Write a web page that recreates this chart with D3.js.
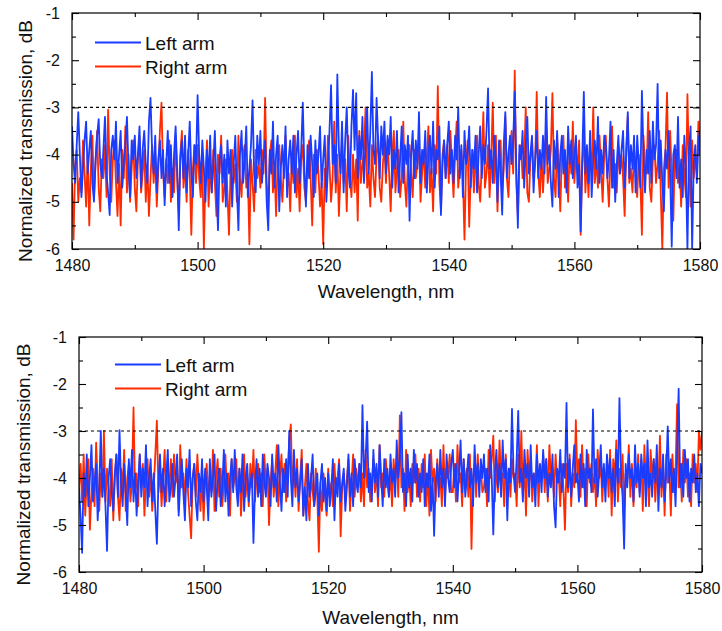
<!DOCTYPE html>
<html><head><meta charset="utf-8">
<script src="https://cdn.jsdelivr.net/npm/d3@7/dist/d3.min.js"></script>
<style>body{margin:0;background:#fff}svg{display:block}</style>
</head><body>
<svg id="chart" width="722" height="631"></svg>
<script>
const seriesNames = ["Left arm", "Right arm"];
const seriesColors = ["#1a3cff", "#ff2a00"];
const xTickValues = [1480, 1500, 1520, 1540, 1560, 1580];
const xMinorTicks = [1490, 1510, 1530, 1550, 1570];
const yTickValues = [-1, -2, -3, -4, -5, -6];
const yMinorTicks = [-1.5, -2.5, -3.5, -4.5, -5.5];
const thresholdLevel = -3;
const wavelengthStart = 1480, wavelengthStep = 0.25;

const topLeftArm = [
-3.4,-4.2,-4.6,-3.8,-3.1,-4.0,-4.9,-4.3,-3.7,-3.3,-4.4,-3.9,-3.5,-4.6,-5.0,-4.1,-3.6,-3.25,-4.2,-4.5,
-3.9,-3.2,-4.4,-4.8,-5.28,-3.9,-3.6,-4.1,-3.3,-4.6,-4.0,-3.5,-4.7,-4.2,-3.8,-3.2,-4.3,-4.9,-3.7,-4.1,
-3.6,-4.5,-4.0,-3.4,-4.7,-3.9,-3.5,-4.2,-4.6,-3.3,-2.8,-3.9,-4.4,-3.6,-4.8,-4.1,-3.7,-4.5,-3.9,-5.07,
-4.2,-3.5,-4.6,-3.8,-4.9,-4.0,-3.4,-4.3,-5.6,-4.1,-3.7,-4.5,-3.6,-4.8,-4.0,-3.3,-4.4,-4.9,-3.8,-4.2,
-2.74,-4.0,-4.6,-3.7,-4.3,-5.0,-3.9,-4.5,-3.6,-4.8,-4.2,-3.5,-4.7,-5.6,-4.1,-3.8,-4.6,-4.0,-5.1,-3.7,
-4.4,-3.9,-5.1,-4.2,-3.6,-4.7,-5.6,-4.0,-3.5,-4.6,-4.1,-3.4,-4.9,-4.3,-3.8,-2.85,-4.4,-4.8,-3.6,-4.2,
-3.5,-4.6,-4.1,-3.7,-5.0,-5.6,-3.9,-4.4,-3.3,-4.7,-4.0,-3.6,-5.2,-4.3,-3.8,-4.5,-3.4,-4.9,-4.1,-3.7,
-4.4,-3.6,-4.8,-4.0,-3.5,-4.6,-3.9,-2.9,-4.3,-5.1,-3.8,-4.5,-3.6,-4.2,-4.9,-3.7,-4.4,-4.0,-3.4,-4.7,
-4.1,-3.6,-5.0,-4.3,-3.5,-2.53,-4.2,-3.8,-4.6,-2.3,-3.9,-4.4,-3.3,-4.8,-3.7,-3.0,-4.3,-4.7,-3.4,-2.63,
-3.9,-2.7,-4.5,-3.6,-4.1,-3.2,-4.6,-3.8,-3.0,-4.4,-3.5,-2.25,-3.9,-4.2,-2.8,-3.7,-4.5,-3.4,-4.0,-3.3,
-4.4,-3.6,-4.0,-3.2,-4.7,-3.9,-4.3,-3.5,-4.8,-4.1,-3.4,-4.6,-3.8,-4.2,-3.6,-5.4,-4.0,-3.5,-4.5,-3.7,
-4.3,-3.1,-4.6,-3.9,-4.2,-3.5,-4.8,-4.0,-3.6,-4.4,-3.3,-4.7,-3.9,-4.1,-3.4,-5.28,-4.2,-3.7,-4.5,-3.8,
-3.3,-4.4,-3.9,-4.6,-3.6,-4.1,-3.0,-4.5,-3.8,-4.9,-3.5,-4.2,-4.0,-3.4,-4.7,-3.9,-4.3,-3.6,-4.8,-4.0,
-3.4,-4.5,-3.8,-4.2,-3.5,-2.6,-4.3,-3.9,-4.6,-3.6,-4.1,-5.0,-3.7,-4.4,-5.27,-3.8,-3.1,-4.5,-4.0,-3.6,
-4.2,-3.7,-2.67,-4.3,-5.55,-3.8,-4.1,-3.5,-4.7,-3.9,-3.2,-4.4,-4.0,-3.6,-4.8,-4.1,-3.5,-4.5,-3.9,-4.3,
-3.6,-4.4,-2.78,-4.2,-3.8,-4.6,-5.1,-3.7,-4.3,-3.5,-4.9,-4.0,-3.6,-4.4,-3.9,-4.8,-3.4,-4.2,-3.7,-4.5,
-4.0,-3.6,-4.7,-4.2,-5.63,-4.1,-2.67,-4.4,-3.8,-4.6,-3.5,-4.9,-4.1,-3.7,-4.3,-3.2,-4.6,-3.9,-4.4,-3.6,
-3.8,-4.5,-4.1,-3.3,-4.7,-3.9,-5.0,-4.2,-3.6,-4.4,-3.9,-3.5,-4.7,-4.0,-3.1,-4.5,-3.8,-4.3,-3.6,-4.8,
-3.6,-4.2,-4.7,-2.65,-4.0,-4.8,-3.9,-4.4,-3.5,-4.6,-3.3,-4.1,-3.8,-2.5,-4.5,-3.7,-4.6,-5.2,-3.9,-4.3,
-3.5,-4.4,-5.95,-4.0,-3.8,-4.5,-3.2,-4.7,-4.1,-4.9,-3.6,-4.3,-6.0,-3.9,-3.4,-6.0,-4.2,-3.8,-4.6,-3.7,
-3.5];

const topRightArm = [
-4.6,-5.8,-4.2,-3.9,-5.0,-4.5,-4.8,-3.7,-4.4,-5.1,-4.0,-5.5,-4.3,-3.6,-4.9,-4.2,-3.5,-4.7,-5.2,-4.1,
-4.5,-3.8,-4.9,-3.05,-4.4,-5.0,-4.1,-3.7,-4.6,-5.3,-4.2,-5.5,-3.9,-4.5,-3.4,-4.8,-4.0,-5.0,-4.3,-3.7,
-4.7,-5.2,-4.1,-3.6,-4.8,-4.4,-3.9,-5.0,-4.2,-5.3,-4.5,-3.8,-4.6,-4.0,-5.1,-4.3,-3.5,-2.9,-4.4,-4.9,
-4.1,-4.6,-3.7,-5.0,-4.3,-4.8,-3.6,-4.5,-5.2,-4.0,-3.5,-4.7,-4.2,-5.0,-3.9,-4.4,-5.7,-4.3,-3.8,-4.6,
-3.8,-4.5,-4.9,-4.1,-6.0,-4.4,-3.7,-5.1,-4.2,-4.8,-3.9,-4.6,-5.3,-4.0,-4.4,-3.6,-5.0,-4.7,-4.1,-4.8,
-5.7,-4.3,-3.9,-4.6,-4.2,-5.0,-3.6,-4.5,-4.9,-4.0,-3.8,-4.7,-4.4,-5.9,-4.1,-4.6,-5.2,-3.9,-4.5,-4.2,
-4.7,-3.9,-4.4,-2.8,-4.6,-5.1,-4.0,-3.7,-4.8,-4.3,-5.3,-4.1,-3.8,-4.5,-5.0,-4.2,-3.6,-4.7,-4.4,-5.2,
-4.0,-4.6,-3.6,-4.9,-4.3,-5.2,-4.1,-3.8,-4.7,-5.0,-4.2,-3.7,-4.5,-5.5,-4.0,-4.8,-3.9,-4.4,-5.1,-4.6,
-5.9,-4.3,-4.7,-3.6,-4.2,-5.0,-4.5,-3.3,-4.8,-4.0,-5.3,-4.4,-3.7,-4.6,-4.1,-5.2,-3.6,-4.5,-4.9,-4.0,
-4.8,-4.1,-5.4,-3.5,-4.6,-4.2,-3.9,-3.0,-4.7,-4.4,-5.1,-3.8,-4.5,-4.9,-4.0,-3.6,-4.7,-5.0,-4.2,-3.8,
-4.6,-3.7,-4.4,-5.2,-4.0,-3.5,-4.8,-4.3,-3.9,-4.9,-4.5,-3.3,-4.6,-5.1,-4.1,-3.8,-4.4,-4.9,-3.9,-4.5,
-4.2,-3.6,-5.0,-4.4,-3.9,-4.7,-4.1,-3.4,-4.8,-4.3,-5.2,-3.8,-4.4,-2.55,-4.6,-5.2,-4.0,-3.7,-4.5,-3.8,
-4.6,-3.5,-4.2,-4.9,-4.0,-3.3,-4.7,-4.3,-3.9,-4.5,-5.8,-4.2,-3.7,-5.53,-4.4,-3.9,-4.8,-4.1,-3.6,-4.6,
-5.0,-4.2,-3.1,-4.7,-4.4,-3.8,-4.9,-4.1,-2.9,-4.6,-3.6,-5.2,-4.1,-3.7,-4.8,-4.3,-3.2,-4.5,-4.9,-4.0,
-3.5,-4.4,-2.22,-4.6,-5.3,-4.0,-3.8,-4.5,-4.2,-3.0,-4.8,-5.0,-4.1,-3.7,-4.5,-4.2,-2.67,-4.4,-4.9,-4.0,
-4.8,-4.1,-3.4,-4.6,-4.3,-3.9,-2.7,-4.5,-4.9,-3.6,-4.3,-5.2,-4.0,-3.6,-4.7,-4.2,-5.0,-3.8,-4.4,-3.3,
-4.6,-3.9,-4.4,-3.7,-5.7,-4.2,-3.5,-4.8,-4.1,-4.9,-3.9,-4.4,-3.0,-4.6,-4.1,-4.7,-3.6,-4.3,-5.0,-4.0,
-3.6,-4.5,-5.1,-4.0,-3.4,-4.7,-4.2,-4.8,-3.8,-4.4,-4.0,-4.5,-5.3,-3.9,-3.2,-4.6,-4.3,-4.8,-3.9,-4.4,
-4.9,-4.0,-4.5,-5.7,-3.6,-4.3,-4.4,-3.1,-4.7,-5.0,-4.1,-3.8,-4.6,-4.2,-3.5,-4.8,-6.0,-4.3,-3.9,-2.69,
-4.7,-3.5,-4.5,-5.4,-4.0,-3.9,-4.6,-4.2,-5.1,-3.8,-4.4,-4.9,-2.72,-4.3,-5.1,-3.7,-4.5,-4.0,-4.4,-3.3,
-4.0];

const bottomLeftArm = [
-4.2,-4.8,-5.59,-3.9,-4.4,-3.5,-4.6,-4.0,-3.3,-4.5,-4.1,-3.7,-4.9,-4.2,-3.0,-4.4,-3.8,-4.6,-5.55,-4.0,
-3.6,-4.3,-4.7,-3.9,-3.5,-4.4,-2.98,-4.1,-4.6,-3.7,-4.3,-5.0,-3.6,-4.2,-3.4,-4.5,-3.9,-4.8,-4.1,-3.5,
-4.4,-3.8,-4.2,-3.3,-4.6,-4.0,-3.6,-4.5,-3.9,-4.7,-5.4,-4.1,-3.5,-4.3,-3.8,-4.6,-4.0,-3.4,-4.5,-4.2,
-3.7,-4.4,-4.0,-3.5,-4.8,-4.1,-3.6,-4.3,-4.9,-3.8,-4.2,-3.4,-4.6,-4.0,-3.7,-4.5,-4.9,-3.9,-4.3,-3.6,
-4.5,-3.8,-4.2,-4.9,-3.6,-4.4,-4.0,-3.5,-4.7,-4.1,-3.8,-4.6,-4.2,-3.4,-4.5,-3.9,-4.8,-4.0,-3.6,-4.3,
-3.4,-4.2,-4.6,-3.8,-4.3,-3.5,-4.7,-4.0,-3.7,-4.5,-4.1,-3.9,-5.38,-4.2,-3.6,-4.4,-3.8,-4.6,-3.5,-4.1,
-4.4,-3.7,-4.0,-4.6,-3.5,-4.2,-3.9,-4.5,-3.3,-4.1,-4.7,-3.8,-4.3,-3.6,-4.4,-3.0,-4.0,-4.6,-3.4,-4.2,
-3.8,-4.5,-4.1,-3.6,-4.8,-4.2,-4.9,-3.7,-4.4,-4.0,-3.5,-4.6,-4.3,-3.9,-4.8,-4.1,-3.7,-4.5,-4.0,-4.7,
-3.9,-4.6,-4.2,-3.6,-4.9,-4.0,-4.4,-3.7,-4.5,-4.1,-3.8,-4.7,-4.2,-3.5,-4.4,-3.9,-4.6,-3.6,-4.1,-4.3,
-3.7,-4.2,-2.45,-4.0,-3.6,-2.8,-4.3,-3.9,-4.5,-3.4,-4.1,-3.7,-4.4,-3.3,-4.0,-4.6,-3.6,-4.2,-3.8,-4.4,
-3.5,-4.1,-3.8,-4.4,-3.2,-4.0,-3.6,-2.6,-4.3,-3.9,-4.6,-3.5,-4.2,-3.8,-4.5,-3.4,-4.1,-3.7,-4.4,-3.9,
-4.3,-3.6,-4.6,-3.9,-4.2,-3.5,-4.7,-4.0,-5.23,-4.1,-3.7,-4.4,-3.4,-4.2,-3.8,-4.6,-3.5,-4.0,-4.3,-3.7,
-3.4,-4.2,-3.7,-4.5,-3.9,-3.2,-4.3,-3.6,-4.4,-4.0,-3.5,-4.2,-3.8,-4.6,-3.3,-4.1,-3.7,-4.4,-3.6,-4.0,
-3.5,-4.3,-3.8,-4.5,-3.3,-4.0,-5.2,-3.9,-3.4,-4.2,-3.7,-4.4,-3.2,-4.0,-3.6,-4.9,-3.8,-4.1,-2.53,-3.9,
-4.3,-3.6,-2.57,-4.1,-3.8,-4.5,-3.4,-4.0,-3.7,-4.4,-3.3,-4.2,-3.9,-4.6,-3.5,-4.1,-3.7,-4.3,-3.4,-4.0,
-3.6,-4.4,-3.9,-4.2,-3.5,-4.6,-5.05,-3.8,-4.1,-3.4,-4.3,-3.7,-4.0,-2.4,-4.2,-3.6,-4.4,-3.8,-3.3,-4.1,
-3.9,-4.5,-3.5,-4.2,-3.7,-4.6,-3.4,-4.0,-3.8,-4.3,-2.54,-4.1,-3.6,-4.4,-3.9,-3.3,-4.2,-3.7,-4.5,-3.5,
-4.0,-3.6,-4.3,-3.8,-4.6,-3.4,-4.1,-2.3,-3.9,-4.4,-5.5,-3.7,-4.2,-3.5,-4.0,-3.8,-4.5,-3.3,-4.1,-3.7,
-4.4,-3.5,-4.0,-3.7,-4.6,-3.2,-4.2,-3.9,-4.4,-3.6,-4.1,-3.3,-4.7,-3.8,-4.2,-3.5,-4.5,-3.9,-2.9,-4.1,
-3.6,-4.3,-3.8,-4.6,-3.5,-2.1,-4.2,-3.7,-4.4,-3.4,-4.0,-3.6,-4.5,-3.8,-4.1,-3.5,-4.3,-3.9,-4.6,-3.7,
-3.9];

const bottomRightArm = [
-4.2,-3.7,-4.5,-3.5,-4.8,-4.0,-3.6,-5.1,-4.3,-3.8,-4.6,-3.25,-4.1,-4.7,-3.9,-4.4,-3.0,-4.5,-3.8,-4.2,
-4.6,-3.6,-4.9,-4.0,-3.5,-4.4,-4.9,-3.8,-4.2,-3.4,-4.7,-4.0,-3.7,-4.5,-4.1,-2.5,-4.3,-3.9,-4.6,-3.5,
-4.2,-3.7,-4.8,-4.0,-3.6,-4.4,-3.9,-4.7,-4.2,-3.5,-2.78,-4.3,-3.8,-4.6,-4.0,-3.4,-4.5,-3.8,-4.2,-3.6,
-4.4,-3.5,-4.1,-3.8,-4.7,-3.3,-4.2,-3.9,-4.5,-3.6,-4.3,-4.8,-5.28,-4.0,-3.7,-4.4,-3.5,-4.2,-4.7,-3.9,
-4.9,-4.1,-3.7,-4.5,-3.9,-4.3,-3.4,-4.7,-4.0,-3.6,-4.4,-3.8,-4.6,-4.1,-3.5,-4.3,-3.9,-4.8,-3.6,-4.2,
-4.0,-3.6,-4.5,-3.8,-4.8,-4.1,-3.5,-4.4,-3.9,-4.6,-3.7,-4.2,-3.4,-4.5,-4.0,-3.7,-4.3,-3.9,-4.6,-3.5,
-4.2,-3.8,-5.0,-4.1,-3.6,-4.4,-3.9,-3.3,-4.6,-4.0,-3.5,-4.3,-3.7,-4.5,-3.9,-3.2,-2.86,-4.2,-3.7,-4.4,
-3.6,-4.7,-4.0,-3.4,-4.8,-4.2,-3.7,-4.5,-4.9,-3.9,-4.3,-4.6,-3.8,-4.4,-5.57,-4.1,-4.7,-3.9,-4.4,-4.8,
-3.8,-4.4,-4.1,-4.6,-3.7,-4.3,-4.0,-3.6,-5.24,-4.2,-3.9,-4.5,-4.0,-3.6,-4.7,-4.1,-3.5,-4.4,-3.8,-4.2,
-3.7,-4.5,-3.9,-4.6,-3.4,-4.2,-3.8,-4.5,-4.1,-3.6,-4.3,-3.8,-4.6,-3.3,-4.2,-3.9,-4.4,-3.6,-4.1,-4.4,
-3.9,-4.6,-3.6,-4.1,-3.5,-4.4,-2.67,-4.2,-3.8,-4.7,-3.4,-4.3,-3.9,-4.6,-3.7,-4.1,-3.5,-4.4,-3.8,-4.5,
-3.7,-4.2,-3.5,-4.6,-3.9,-4.8,-3.4,-4.1,-3.8,-4.5,-3.6,-4.2,-4.0,-4.6,-3.3,-4.4,-3.8,-4.0,-3.5,-4.3,
-4.3,-3.7,-4.5,-3.3,-4.1,-3.9,-4.6,-3.6,-4.2,-3.8,-4.4,-3.5,-5.51,-4.0,-3.7,-4.4,-3.5,-4.1,-3.8,-4.3,
-4.2,-3.8,-4.6,-3.4,-4.0,-3.6,-3.1,-4.5,-3.7,-4.3,-3.2,-4.1,-3.9,-4.6,-3.5,-4.2,-3.8,-4.4,-3.6,-4.0,
-3.9,-4.6,-3.5,-4.2,-3.0,-4.4,-3.7,-4.8,-3.4,-4.1,-3.6,-4.5,-3.9,-4.2,-3.3,-4.6,-3.8,-4.0,-3.5,-4.3,
-3.6,-4.5,-3.3,-4.0,-3.8,-4.4,-3.5,-4.1,-3.9,-4.6,-3.7,-4.2,-5.1,-3.7,-4.3,-3.5,-4.6,-3.9,-4.2,-2.77,
-4.0,-3.6,-4.4,-3.3,-4.2,-3.8,-4.6,-3.5,-4.1,-3.7,-4.3,-3.9,-4.6,-3.4,-4.0,-3.7,-4.5,-3.8,-4.2,-3.6,
-4.4,-3.4,-4.8,-3.6,-4.0,-3.2,-4.5,-3.8,-4.2,-3.5,-4.7,-3.9,-4.1,-3.3,-4.4,-3.7,-4.6,-3.9,-4.2,-3.5,
-4.3,-3.6,-4.7,-3.3,-4.1,-3.9,-4.6,-3.4,-4.0,-3.6,-4.5,-3.8,-4.2,-3.1,-4.4,-3.7,-4.8,-3.5,-4.1,-3.8,
-4.8,-3.5,-4.3,-3.9,-2.43,-4.2,-3.7,-4.5,-3.4,-4.1,-3.6,-4.4,-3.9,-4.6,-3.5,-4.1,-3.7,-4.3,-3.0,-3.4,
-3.0];

const wavelengths = topLeftArm.map((_, i) => wavelengthStart + i * wavelengthStep);

const FONT = "'Liberation Sans', Arial, Helvetica, sans-serif";
const svg = d3.select("#chart");

function drawPanel(id, box, leftData, rightData, legendPos, yTitleX, xTitleY) {
  const g = svg.append("g");
  const x = d3.scaleLinear().domain([1480, 1580]).range([box.l, box.r]);
  const y = d3.scaleLinear().domain([-6, -1]).range([box.b, box.t]);

  g.append("clipPath").attr("id", "clip" + id).append("rect")
    .attr("x", box.l).attr("y", box.t).attr("width", box.r - box.l).attr("height", box.b - box.t);

  const line = d3.line().x((d, i) => x(wavelengths[i])).y(d => y(d));
  const plot = g.append("g").attr("clip-path", `url(#clip${id})`);
  plot.append("path").datum(rightData).attr("d", line)
    .attr("fill", "none").attr("stroke", seriesColors[1]).attr("stroke-width", 1.8).attr("stroke-linejoin", "round");
  plot.append("path").datum(leftData).attr("d", line)
    .attr("fill", "none").attr("stroke", seriesColors[0]).attr("stroke-width", 1.8).attr("stroke-linejoin", "round");

  g.append("line").attr("x1", box.l).attr("x2", box.r).attr("y1", y(thresholdLevel)).attr("y2", y(thresholdLevel))
    .attr("stroke", "#000").attr("stroke-width", 1.2).attr("stroke-dasharray", "3,3");

  g.append("rect").attr("x", box.l).attr("y", box.t).attr("width", box.r - box.l).attr("height", box.b - box.t)
    .attr("fill", "none").attr("stroke", "#000").attr("stroke-width", 1.2);

  const axB = d3.axisBottom(x).tickValues(xTickValues).tickSize(-7).tickPadding(11).tickFormat(d3.format("d"));
  const axL = d3.axisLeft(y).tickValues(yTickValues).tickSize(-7).tickPadding(12).tickFormat(d => String(d));
  const axT = d3.axisTop(x).tickValues(xTickValues).tickSize(-7).tickFormat("");
  const axR = d3.axisRight(y).tickValues(yTickValues).tickSize(-7).tickFormat("");
  const mB = d3.axisBottom(x).tickValues(xMinorTicks).tickSize(-4).tickFormat("");
  const mT = d3.axisTop(x).tickValues(xMinorTicks).tickSize(-4).tickFormat("");
  const mL = d3.axisLeft(y).tickValues(yMinorTicks).tickSize(-4).tickFormat("");
  const mR = d3.axisRight(y).tickValues(yMinorTicks).tickSize(-4).tickFormat("");

  const axes = [
    [axB, `translate(0,${box.b})`], [axT, `translate(0,${box.t})`],
    [axL, `translate(${box.l},0)`], [axR, `translate(${box.r},0)`],
    [mB, `translate(0,${box.b})`], [mT, `translate(0,${box.t})`],
    [mL, `translate(${box.l},0)`], [mR, `translate(${box.r},0)`]
  ];
  axes.forEach(([ax, tr]) => {
    const a = g.append("g").attr("transform", tr).call(ax);
    a.select(".domain").remove();
    a.selectAll("line").attr("stroke", "#000").attr("stroke-width", 1.1);
    a.selectAll("text").attr("font-family", FONT).attr("font-size", 16).attr("fill", "#111");
  });

  seriesNames.forEach((name, i) => {
    const ly = legendPos.y + i * 24;
    g.append("line").attr("x1", legendPos.x).attr("x2", legendPos.x + 46).attr("y1", ly).attr("y2", ly)
      .attr("stroke", seriesColors[i]).attr("stroke-width", 2);
    g.append("text").attr("x", legendPos.x + 50).attr("y", ly + 7).text(name)
      .attr("font-family", FONT).attr("font-size", 19).attr("fill", "#111");
  });

  g.append("text").attr("x", (box.l + box.r) / 2).attr("y", xTitleY).attr("text-anchor", "middle")
    .attr("font-family", FONT).attr("font-size", 19).attr("fill", "#111").text("Wavelength, nm");
  const cy = (box.t + box.b) / 2 + 10;
  g.append("text").attr("transform", `translate(${yTitleX},${cy}) rotate(-90)`).attr("text-anchor", "middle")
    .attr("font-family", FONT).attr("font-size", 19).attr("fill", "#111").text("Normalized transmission, dB");
}

drawPanel("top", {l: 72, r: 700, t: 13, b: 249}, topLeftArm, topRightArm, {x: 95, y: 42.5}, 32, 298);
drawPanel("bot", {l: 79, r: 702, t: 337, b: 572}, bottomLeftArm, bottomRightArm, {x: 115, y: 364.5}, 30, 624);
</script>
</body></html>
